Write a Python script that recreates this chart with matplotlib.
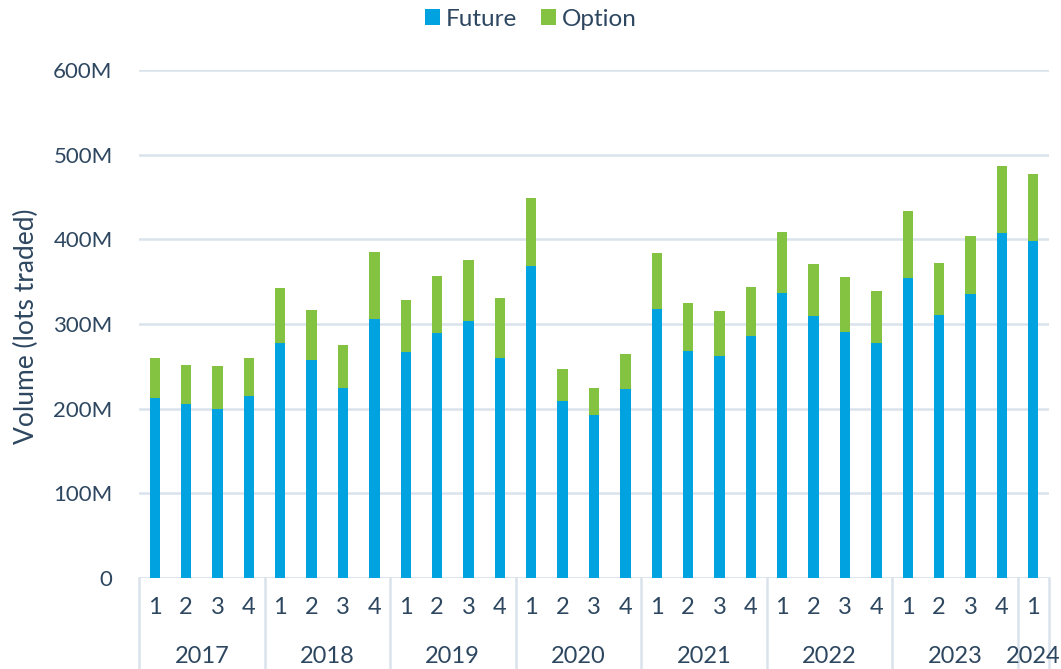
import numpy as np
import matplotlib.pyplot as plt
import matplotlib.transforms as mtransforms

plt.rcParams['font.family'] = ['Lato', 'DejaVu Sans']

years = ['2017', '2018', '2019', '2020', '2021', '2022', '2023', '2024']
quarters = ['1', '2', '3', '4'] * 7 + ['1']

# volumes in millions of lots
future = [213, 206, 200, 215,
          277, 258, 225, 306,
          267, 289, 303, 260,
          368, 209, 192, 223,
          318, 268, 262, 286,
          337, 310, 290, 278,
          354, 311, 336, 408,
          398]
total = [260, 252, 250, 260,
         342, 316, 275, 385,
         328, 357, 376, 331,
         449, 247, 224, 264,
         384, 325, 315, 344,
         409, 371, 355, 339,
         433, 372, 404, 487,
         477]
option = [t - f for t, f in zip(total, future)]

txt = '#2E4760'
grid = '#DAE3EC'
blue = '#00A3E0'
green = '#84C341'

fig = plt.figure(figsize=(10.61, 6.69), dpi=100)
ax = fig.add_axes([139/1061, 91/669, 910/1061, 508/669])

x = np.arange(len(future))
ax.bar(x, future, width=0.33, color=blue, label='Future', zorder=3)
ax.bar(x, option, bottom=future, width=0.33, color=green, label='Option', zorder=3)

ax.set_xlim(-0.5, len(x) - 0.5)
ax.set_ylim(0, 600)
ax.set_yticks(range(0, 700, 100))
ax.set_yticklabels(['0'] + ['%dM' % v for v in range(100, 700, 100)])
ax.tick_params(axis='y', length=0, pad=19, labelsize=16, labelcolor=txt)
ax.set_xticks([])
ax.grid(axis='y', color=grid, linewidth=1.8, zorder=0)
for s in ax.spines.values():
    s.set_visible(False)
ax.axhline(0, color=grid, linewidth=1.8, zorder=1)

# two level category axis
tr = mtransforms.blended_transform_factory(ax.transData, ax.transAxes)
for i, q in enumerate(quarters):
    ax.text(i, -0.059, q, transform=tr, ha='center', va='center',
            fontsize=17, color=txt)
bounds = [-0.5 + 4 * k for k in range(8)] + [len(x) - 0.5]
for b in bounds:
    ax.plot([b, b], [0, -0.2], transform=tr, color=grid, linewidth=1.8,
            clip_on=False)
for k, yr in enumerate(years):
    mid = (bounds[k] + bounds[k + 1]) / 2
    ax.text(mid, -0.155, yr, transform=tr, ha='center', va='center',
            fontsize=17, color=txt)

fig.text(26/1061, 1 - 326/669, 'Volume (lots traded)', rotation=90,
         ha='center', va='center', fontsize=19, color=txt)

fig.legend(loc='center', bbox_to_anchor=(531/1061, 1 - 19/669), ncol=2,
           frameon=False, fontsize=17.5, labelcolor=txt, handlelength=0.6,
           handleheight=0.6, handletextpad=0.25, columnspacing=1.0)

fig.savefig('out.png', dpi=100)
